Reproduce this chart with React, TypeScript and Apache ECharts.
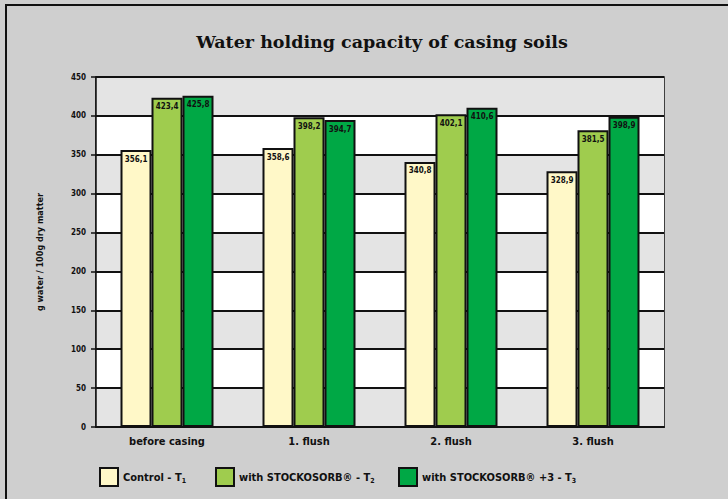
import React, { useEffect, useRef } from "react";
import * as echarts from "echarts";

const categories = ["before casing", "1. flush", "2. flush", "3. flush"];
const seriesNames = ["Control - T1", "with STOCKOSORB® - T2", "with STOCKOSORB® +3 - T3"];
const controlValues = [356.1, 358.6, 340.8, 328.9];
const stockosorbValues = [423.4, 398.2, 402.1, 381.5];
const stockosorbPlusValues = [425.8, 394.7, 410.6, 398.9];
const yTicks = { min: 0, max: 450, interval: 50 };

const colors = ["#fff8c8", "#9fcc4e", "#00a845"];

export default function App() {
  const ref = useRef<HTMLDivElement>(null);
  useEffect(() => {
    document.body.style.margin = "0";
    const chart = echarts.init(ref.current!, null, { renderer: "svg" });
    const values = [controlValues, stockosorbValues, stockosorbPlusValues];
    const font = "'Liberation Sans Narrow', 'DejaVu Sans Condensed', Arial, sans-serif";
    const legendLefts = [94, 210, 393];
    chart.setOption({
      animation: false,
      backgroundColor: "#cfcfcf",
      title: {
        text: "Water holding capacity of casing soils",
        left: 377,
        top: 28,
        textAlign: "center",
        textStyle: { fontFamily: "'DejaVu Serif', serif", fontWeight: "bold", fontSize: 17.5, color: "#111" },
      },
      grid: {
        left: 96,
        right: 64,
        top: 77,
        bottom: 72,
        show: true,
        borderColor: "#111",
        borderWidth: 1.5,
        backgroundColor: "transparent",
      },
      legend: seriesNames.map((n, i) => ({
        data: [n],
        left: legendLefts[i],
        top: 462,
        itemWidth: 18,
        itemHeight: 18,
        itemGap: 5,
        icon: "rect",
        formatter: (name: string) => name.replace(/T(\d)$/, "T{sub|$1}"),
        textStyle: {
          fontFamily: font,
          fontWeight: "bold",
          fontSize: 11,
          color: "#111",
          rich: { sub: { fontSize: 7, fontWeight: "bold", verticalAlign: "bottom", padding: [8, 0, 0, 0] } },
        },
      })),
      xAxis: {
        type: "category",
        data: categories,
        axisLine: { lineStyle: { color: "#111", width: 2 } },
        axisTick: { show: false },
        axisLabel: { fontFamily: font, fontWeight: "bold", fontSize: 11, color: "#111", margin: 9 },
      },
      yAxis: {
        type: "value",
        min: yTicks.min,
        max: yTicks.max,
        interval: yTicks.interval,
        name: "g water / 100g dry matter",
        nameLocation: "middle",
        nameRotate: 90,
        nameGap: 52,
        nameTextStyle: { fontFamily: font, fontWeight: "bold", fontSize: 9, color: "#111" },
        axisLine: { show: true, lineStyle: { color: "#111", width: 1.5 } },
        axisTick: { show: true, length: 5, lineStyle: { color: "#111", width: 1.5 } },
        axisLabel: { fontFamily: font, fontWeight: "bold", fontSize: 8, color: "#111", margin: 10 },
        splitLine: { show: true, lineStyle: { color: "#111", width: 2 } },
        splitArea: { show: true, areaStyle: { color: ["#e4e4e4", "#ffffff"] } },
      },
      series: seriesNames.map((n, i) => ({
        name: n,
        type: "bar",
        data: values[i],
        barWidth: 31,
        barGap: "0%",
        itemStyle: { color: colors[i], borderColor: "#111", borderWidth: 2 },
        label: {
          show: true,
          position: "insideTop",
          distance: 5,
          fontFamily: font,
          fontWeight: "bold",
          fontSize: 8,
          color: "#111",
          formatter: (p: any) => String(p.value).replace(".", ","),
        },
      })),
      graphic: [
        { type: "line", shape: { x1: 5, y1: 5, x2: 728, y2: 5 }, style: { stroke: "#111", lineWidth: 2 } },
        { type: "line", shape: { x1: 6, y1: 5, x2: 6, y2: 499 }, style: { stroke: "#111", lineWidth: 2 } },
      ],
    });
    return () => chart.dispose();
  }, []);
  return <div ref={ref} style={{ width: 728, height: 499 }} />;
}
